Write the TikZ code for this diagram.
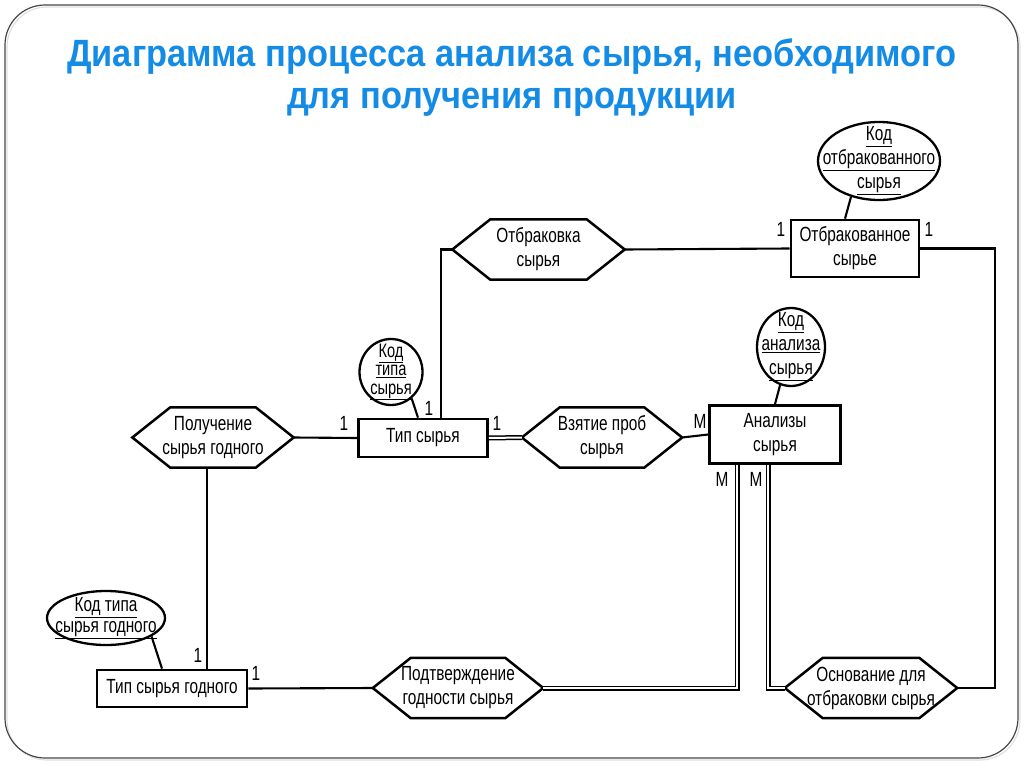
\documentclass[tikz,border=0pt]{standalone}
\usepackage{fontspec}
\setmainfont{Liberation Sans}[FakeStretch=0.75]
\newfontfamily\titlefont{Liberation Sans}[FakeStretch=0.905]
\usetikzlibrary{shapes.geometric}
\definecolor{titleblue}{RGB}{20,140,230}
\definecolor{framegray}{RGB}{70,70,70}
\begin{document}
\begin{tikzpicture}[x=1pt,y=-1pt,
  txt/.style={font=\fontsize{20.5}{24}\selectfont},
  ent/.style={draw, line width=2.7pt, inner sep=0pt, align=center, txt},
  attr/.style={ellipse, draw, line width=2.3pt, inner sep=0pt},
  attrtext/.style={inner sep=0pt, align=center, txt},
  hexbox/.style={inner sep=0pt, align=center, txt},
  hexline/.style={line width=2.5pt, line join=miter},
  conn/.style={line width=2.1pt},
  dbl/.style={line width=1.5pt, double, double distance=2pt},
  card/.style={txt, inner sep=0pt}]
\useasboundingbox (0,0) rectangle (1024,767);
% frame
\draw[line width=1.2pt, color=black!12, rounded corners=40pt] (7,7) rectangle (1020,760);
\draw[line width=1.2pt, color=framegray, rounded corners=40pt] (5,5) rectangle (1018,758);
% title
\node[font=\titlefont\bfseries\fontsize{38}{42}\selectfont, text=titleblue, align=center] (title) at (512,78) {Диаграмма процесса анализа сырья, необходимого\\для получения продукции};

% entities
\node[ent, minimum width=128pt, minimum height=57pt] (otbs) at (855,248.5) {Отбракованное\\сырье};
\node[ent, minimum width=129pt, minimum height=38pt] (tip) at (423,438) {Тип сырья};
\node[ent, minimum width=131pt, minimum height=58pt] (an) at (775,434.5) {Анализы\\сырья};
\node[ent, minimum width=150pt, minimum height=37pt] (tipg) at (172,688.5) {Тип сырья годного};

% attributes
\node[attr, minimum width=122pt, minimum height=78pt, label={[attrtext]center:\underline{Код}\\\underline{отбракованного}\\\underline{сырья}}] (kotb) at (879,161) {};
\node[attr, minimum width=63pt, minimum height=66pt, label={[attrtext, font=\fontsize{19.5}{18.5}\selectfont]center:\underline{Код}\\\underline{типа}\\\underline{сырья}}] (ktip) at (391,372) {};
\node[attr, minimum width=68pt, minimum height=78pt, label={[attrtext]center:\underline{Код}\\\underline{анализа}\\\underline{сырья}}] (kan) at (791,347) {};
\node[attr, minimum width=118pt, minimum height=54pt, label={[attrtext, font=\fontsize{20.5}{21}\selectfont]center:\underline{Код типа}\\\underline{сырья годного}}] (ktipg) at (106,618) {};

% relationships (hexagons)
\node[hexbox, minimum width=172pt, minimum height=60pt] (otb) at (538.5,249.5) {Отбраковка\\сырья};
\node[hexbox, minimum width=161pt, minimum height=60pt] (pol) at (213,437.5) {Получение\\сырья годного};
\node[hexbox, minimum width=160pt, minimum height=60pt] (vzt) at (602,437.5) {Взятие проб\\сырья};
\node[hexbox, minimum width=170pt, minimum height=60pt] (pod) at (458,688) {Подтверждение\\годности сырья};
\node[hexbox, minimum width=172pt, minimum height=60pt] (osn) at (871,688) {Основание для\\отбраковки сырья};
\foreach \n in {otb,pol,vzt,pod,osn}
  \draw[hexline] (\n.west) -- ([xshift=38pt]\n.north west) -- ([xshift=-38pt]\n.north east)
    -- (\n.east) -- ([xshift=-38pt]\n.south east) -- ([xshift=38pt]\n.south west) -- cycle;

% helper coordinates
\coordinate (rx) at (995,0);
\coordinate (lx) at (441,0);
\coordinate (vx) at (207,0);
\coordinate (d1) at (737,0);
\coordinate (d2) at (768,0);
\coordinate (a1) at (845,0);
\coordinate (a2) at (418,0);
\coordinate (a3) at (775,0);
\coordinate (a4) at (162,0);

% connectors
\draw[conn] (otb.east) -- (otbs.west);
\draw[conn] (otbs.east) -- (otbs.east -| rx) |- (osn.east);
\draw[conn] (otb.west) -- (otb.west -| lx) -- (tip.north -| lx);
\draw[conn] (pol.east) -- (tip.west);
\draw[conn] (pol.south -| vx) -- (tipg.north -| vx);
\draw[dbl] (tip.east) -- (vzt.west);
\draw[conn] (vzt.east) -- (an.west);
\draw[dbl] (an.south -| d1) |- (pod.east);
\draw[dbl] (an.south -| d2) |- (osn.west);
\draw[conn] (tipg.east) -- (pod.west);
\draw[conn] (kotb.-128) -- (otbs.north -| a1);
\draw[conn] (ktip.-52) -- (tip.north -| a2);
\draw[conn] (kan.-106) -- (an.north -| a3);
\draw[conn] (ktipg.-22) -- (tipg.north -| a4);

% cardinalities
\node[card] (c1) at (781,229) {1};
\node[card] (c2) at (929,229) {1};
\node[card] (c3) at (344,423) {1};
\node[card] (c4) at (429,408) {1};
\node[card] (c5) at (497,423) {1};
\node[card] (c6) at (700,421) {M};
\node[card] (c7) at (722,479) {M};
\node[card] (c8) at (756,479) {M};
\node[card] (c9) at (198,655) {1};
\node[card] (c10) at (256,673) {1};
\end{tikzpicture}
\end{document}
